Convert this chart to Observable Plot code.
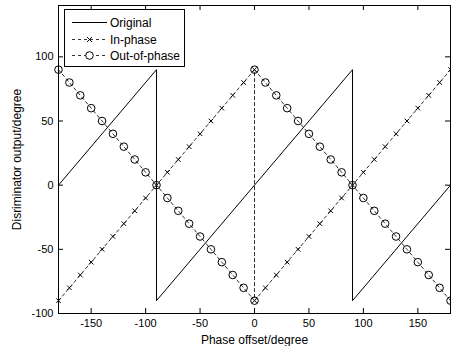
<!DOCTYPE html>
<html><head><meta charset="utf-8">
<script src="https://cdn.jsdelivr.net/npm/d3@7"></script>
<script src="https://cdn.jsdelivr.net/npm/@observablehq/plot@0.6"></script>
<style>body{margin:0;background:#fff}</style>
</head><body><div id="chart"></div>
<script>
const seriesNames = ["Original", "In-phase", "Out-of-phase"];
const originalX = [-180, -90, -90, 90, 90, 180];
const originalY = [0, 90, -90, 90, -90, 0];
const phaseX = [-180,-170,-160,-150,-140,-130,-120,-110,-100,-90,-80,-70,-60,-50,-40,-30,-20,-10,0,
                0,10,20,30,40,50,60,70,80,90,100,110,120,130,140,150,160,170,180];
const inPhaseY = [-90,-80,-70,-60,-50,-40,-30,-20,-10,0,10,20,30,40,50,60,70,80,90,
                  -90,-80,-70,-60,-50,-40,-30,-20,-10,0,10,20,30,40,50,60,70,80,90];
const outPhaseY = [90,80,70,60,50,40,30,20,10,0,-10,-20,-30,-40,-50,-60,-70,-80,-90,
                   90,80,70,60,50,40,30,20,10,0,-10,-20,-30,-40,-50,-60,-70,-80,-90];
const xTicks = [-150, -100, -50, 0, 50, 100, 150];
const yTicks = [-100, -50, 0, 50, 100];
const xDomain = [-180, 180];
const yDomain = [-100, 140];
const xLabel = "Phase offset/degree";
const yLabel = "Disriminator output/degree";

const original = originalX.map((x, i) => ({x, y: originalY[i]}));
const inPhase = phaseX.map((x, i) => ({x, y: inPhaseY[i]}));
const outPhase = phaseX.map((x, i) => ({x, y: outPhaseY[i]}));

const W = 451, H = 346, mL = 58, mR = 1, mT = 5, mB = 33;
const innerH = H - mT - mB;
const FONT = "'Liberation Sans', Arial, sans-serif";
const DASH = "3,3";
const fmt = d => String(d);

function legendMark(index, scales, values, dims) {
  const g = d3.create("svg:g").attr("font-family", FONT).attr("font-size", 12).attr("text-anchor", "start");
  const x0 = dims.marginLeft + 6, y0 = dims.marginTop + 4;
  g.append("rect").attr("x", x0 + 0.5).attr("y", y0 + 0.5)
    .attr("width", 120).attr("height", 57).attr("fill", "white").attr("stroke", "black");
  const rows = [13, 30, 46];
  seriesNames.forEach((name, i) => {
    const cy = y0 + rows[i] + 0.5;
    g.append("line").attr("x1", x0 + 8).attr("x2", x0 + 43).attr("y1", cy).attr("y2", cy)
      .attr("stroke", i === 0 ? "black" : "#333").attr("stroke-dasharray", i === 0 ? null : DASH);
    const mx = x0 + 25.5;
    if (i === 1) {
      g.append("path").attr("d", `M${mx-2.5},${cy-2.5}L${mx+2.5},${cy+2.5}M${mx-2.5},${cy+2.5}L${mx+2.5},${cy-2.5}`)
        .attr("stroke", "black").attr("fill", "none");
    } else if (i === 2) {
      g.append("circle").attr("cx", mx).attr("cy", cy).attr("r", 3.8)
        .attr("stroke", "black").attr("fill", "white");
    }
    g.append("text").attr("x", x0 + 46).attr("y", cy).attr("dy", "0.35em")
      .attr("text-anchor", "start").attr("fill", "black").text(name);
  });
  return g.node();
}

const chart = Plot.plot({
  width: W, height: H,
  marginLeft: mL, marginRight: mR, marginTop: mT, marginBottom: mB,
  style: {fontFamily: FONT, fontSize: "11px", color: "black", background: "white"},
  x: {domain: xDomain, ticks: xTicks},
  y: {domain: yDomain, ticks: yTicks},
  marks: [
    Plot.axisX(xTicks, {tickSize: 0, tickPadding: 6, fontSize: 11, label: null, tickFormat: fmt}),
    Plot.axisY(yTicks, {tickSize: 0, tickPadding: 5, fontSize: 11, label: null, tickFormat: fmt}),
    Plot.axisX({ticks: [], label: xLabel, labelAnchor: "center", labelArrow: "none", labelOffset: 30, fontSize: 12}),
    Plot.axisY({ticks: [], label: yLabel, labelAnchor: "center", labelArrow: "none", labelOffset: 46, fontSize: 12}),
    Plot.tickX(xTicks, {x: d => d, insetTop: innerH - 5, stroke: "black"}),
    Plot.tickX(xTicks, {x: d => d, insetBottom: innerH - 5, stroke: "black"}),
    Plot.tickY(yTicks, {y: d => d, insetRight: (W - mL - mR) - 5, stroke: "black"}),
    Plot.tickY(yTicks, {y: d => d, insetLeft: (W - mL - mR) - 5, stroke: "black"}),
    Plot.line(original, {x: "x", y: "y", stroke: "black", strokeWidth: 1}),
    Plot.line(inPhase, {x: "x", y: "y", stroke: "#333", strokeWidth: 1, strokeDasharray: DASH}),
    Plot.dot(inPhase, {x: "x", y: "y", symbol: "times", r: 2.2, stroke: "black", strokeWidth: 1}),
    Plot.line(outPhase, {x: "x", y: "y", stroke: "#333", strokeWidth: 1, strokeDasharray: DASH}),
    Plot.dot(outPhase, {x: "x", y: "y", symbol: "circle", r: 3.8, stroke: "black", strokeWidth: 1, fill: "none"}),
    Plot.frame({stroke: "black"}),
    legendMark
  ]
});
document.getElementById("chart").append(chart);
</script>
</body></html>
